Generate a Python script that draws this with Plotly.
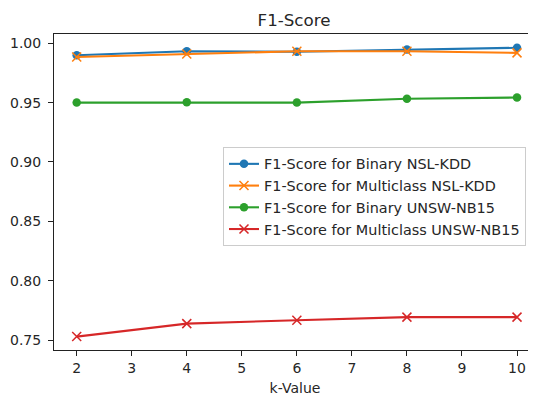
import plotly.graph_objects as go

k_values = [2, 4, 6, 8, 10]
binary_nsl = [0.9899, 0.9933, 0.9928, 0.9948, 0.9962]
multi_nsl = [0.9884, 0.9910, 0.9933, 0.9933, 0.9919]
binary_unsw = [0.9500, 0.9503, 0.9500, 0.9532, 0.9543]
multi_unsw = [0.7529, 0.7638, 0.7667, 0.7693, 0.7693]

names = ["F1-Score for Binary NSL-KDD", "F1-Score for Multiclass NSL-KDD",
         "F1-Score for Binary UNSW-NB15", "F1-Score for Multiclass UNSW-NB15"]
series = [binary_nsl, multi_nsl, binary_unsw, multi_unsw]
colors = ["#1f77b4", "#ff7f0e", "#2ca02c", "#d62728"]
symbols = ["circle", "x-thin", "circle", "x-thin"]

x_ticks = [2, 3, 4, 5, 6, 7, 8, 9, 10]
y_ticks = [0.75, 0.80, 0.85, 0.90, 0.95, 1.00]

FONT = "DejaVu Sans"
fig = go.Figure()
for name, ys, c, s in zip(names, series, colors, symbols):
    if s == "circle":
        marker = dict(symbol=s, size=8.5, color=c, line=dict(width=0))
    else:
        marker = dict(symbol=s, size=9, color=c, line=dict(width=1.5, color=c))
    fig.add_trace(go.Scatter(x=k_values, y=ys, name=name, mode="lines+markers",
                             line=dict(color=c, width=2.1), marker=marker))

# page body has an 8px margin, so the figure is sized 8px smaller and shifted
fig.update_layout(
    template="none",
    width=528, height=388,
    margin=dict(l=46, r=0, t=26, b=46, autoexpand=False),
    paper_bgcolor="white", plot_bgcolor="white",
    font=dict(family=FONT, size=14, color="#262626"),
    title=dict(text="F1-Score", x=0.498, xref="paper", xanchor="center",
               y=1 - 12 / 388, yref="container", yanchor="middle",
               font=dict(size=16.7, color="#262626")),
    legend=dict(x=0.3506, y=0.6424, xanchor="left", yanchor="top",
                bgcolor="rgba(255,255,255,0.8)", bordercolor="#cccccc", borderwidth=1,
                font=dict(size=14.4), itemwidth=30),
    showlegend=True,
)
fig.update_xaxes(range=[1.5876, 10.345], tickvals=x_ticks, ticktext=[str(v) for v in x_ticks],
                 showline=True, linecolor="#222", linewidth=1, mirror=True,
                 ticks="outside", ticklen=5, tickwidth=1, tickcolor="#222",
                 showgrid=False, zeroline=False, automargin=False,
                 title=dict(text="k-Value", standoff=12, font=dict(size=14)))
fig.update_yaxes(range=[0.7416, 1.0078], tickvals=y_ticks, ticktext=[f"{v:.2f}" for v in y_ticks],
                 showline=True, linecolor="#222", linewidth=1, mirror=False,
                 ticks="outside", ticklen=5, tickwidth=1, tickcolor="#222",
                 ticklabelstandoff=4,
                 showgrid=False, zeroline=False, automargin=False)

fig.write_html("out.html")
